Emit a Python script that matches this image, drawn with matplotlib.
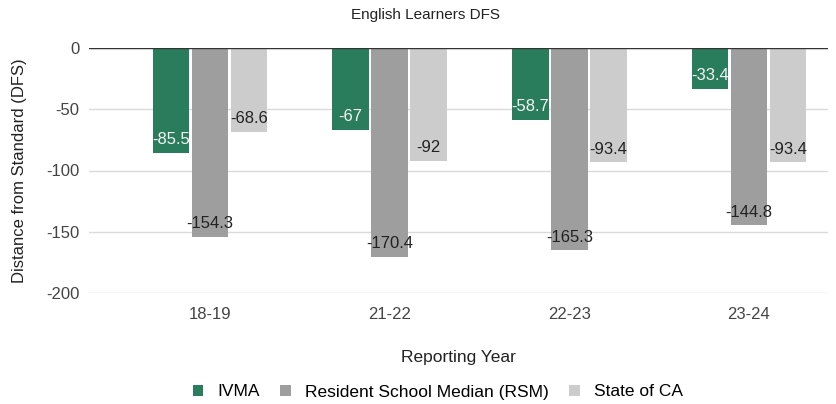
import numpy as np
import matplotlib
matplotlib.use("Agg")
import matplotlib.pyplot as plt

plt.rcParams['font.family'] = ['Liberation Sans', 'DejaVu Sans']
plt.rcParams['axes.unicode_minus'] = False

years = ["18-19", "21-22", "22-23", "23-24"]
ivma = [-85.5, -67, -58.7, -33.4]
rsm = [-154.3, -170.4, -165.3, -144.8]
state = [-68.6, -92, -93.4, -93.4]
series_names = ["IVMA", "Resident School Median (RSM)", "State of CA"]
colors = ["#2a7d5c", "#9e9e9e", "#cccccc"]
text_colors = ["#f4f4f4", "#222222", "#222222"]

fig = plt.figure(figsize=(8.37, 4.04), dpi=100)
ax = fig.add_axes([89 / 837, 1 - 293 / 404, (828 - 89) / 837, (293 - 48) / 404])

x = np.arange(len(years))
step = 39 / 179.6
width = 36.5 / 179.6
for i, (vals, name) in enumerate(zip([ivma, rsm, state], series_names)):
    pos = x + (i - 1) * step
    ax.bar(pos, vals, width, color=colors[i], label=name, zorder=2)
    for px, v in zip(pos, vals):
        ax.annotate(f"{v:g}", (px, v), xytext=(0, 9.5), textcoords="offset points",
                    ha="center", va="center", fontsize=12, color=text_colors[i], zorder=3)

ax.set_ylim(-200, 0)
ax.set_xlim((89 - 210) / 179.6, 3 + (828 - 749) / 179.6)
ax.set_yticks([0, -50, -100, -150, -200])
ax.set_xticks(x)
ax.set_xticklabels(years)
ax.tick_params(length=0, labelsize=12, colors="#444444")
ax.tick_params(axis="x", pad=10)
ax.tick_params(axis="y", pad=7)
ax.grid(axis="y", color="#dadada", linewidth=1, zorder=0)
ax.axhline(0, color="#333333", linewidth=1, zorder=4)
for s in ax.spines.values():
    s.set_visible(False)

ax.set_ylabel("Distance from Standard (DFS)", fontsize=12, color="#222222")
ax.yaxis.set_label_coords((27 - 89) / 739, 0.5)
ax.set_xlabel("Reporting Year", fontsize=12.5, color="#222222", labelpad=20)
fig.text(0.508, 1 - 15 / 404, "English Learners DFS", ha="center", va="center", fontsize=11, color="#222222")

fig.legend(loc="center", bbox_to_anchor=(0.523, 1 - 392 / 404), ncol=3, frameon=False,
           fontsize=12.5, handlelength=0.6, handleheight=0.6, columnspacing=1.2, handletextpad=0.8)

fig.savefig("out.png", dpi=100)
